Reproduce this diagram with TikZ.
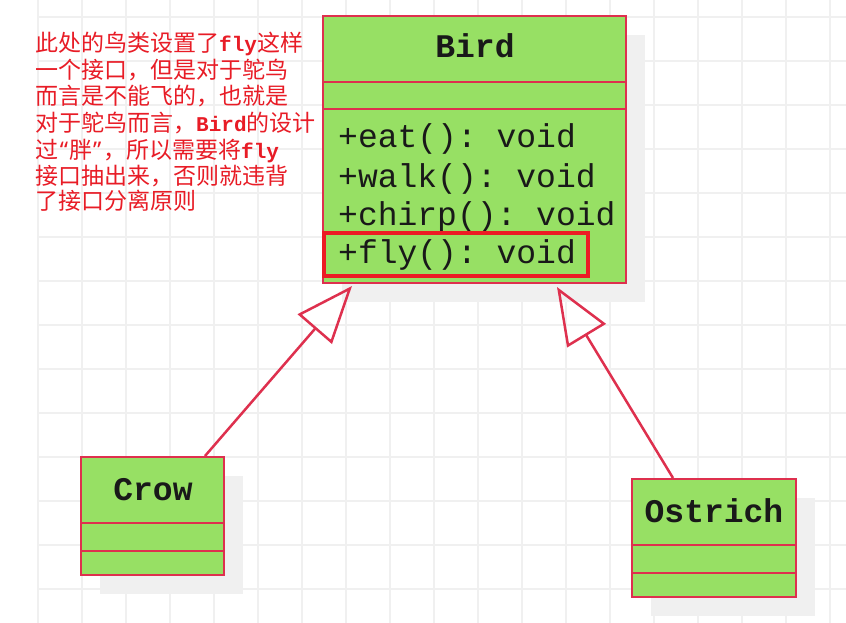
\documentclass[tikz,border=0pt]{standalone}
\usepackage{fontspec}
\setmonofont{Liberation Mono}
\newfontfamily\cjkfont{Noto Sans CJK SC}
\newfontfamily\quotefont{Noto Sans}
\usetikzlibrary{arrows.meta}
\definecolor{boxred}{RGB}{222,48,78}
\definecolor{hired}{RGB}{236,28,36}
\definecolor{notered}{RGB}{232,28,38}
\definecolor{boxgreen}{RGB}{151,224,100}
\definecolor{gridgray}{RGB}{240,240,240}
\definecolor{shadowgray}{RGB}{240,240,240}
\definecolor{txt}{RGB}{25,25,25}
\newcommand{\monobit}[1]{{\ttfamily\bfseries\fontsize{21}{26}\selectfont #1}}
\newcommand{\qtl}{\makebox[11pt][r]{\quotefont “\kern1pt}}
\newcommand{\qtr}{\makebox[11pt][l]{\quotefont \kern1pt”}}
\tikzset{
  gridline/.style={draw=gridgray, line width=1.5pt},
  shadowbox/.style={fill=shadowgray},
  classbox/.style={draw=boxred, fill=boxgreen, line width=2pt, inner sep=0pt, rectangle},
  sepline/.style={draw=boxred, line width=2pt},
  mono/.style={font=\ttfamily\fontsize{33}{38}\selectfont, text=txt, inner sep=0pt},
  monob/.style={font=\ttfamily\bfseries\fontsize{33}{38}\selectfont, text=txt, inner sep=0pt},
  note/.style={font=\cjkfont\fontsize{23}{26}\selectfont, text=notered, inner sep=0pt, anchor=base west},
  inh/.style={draw=boxred, line width=2.5pt, -{Triangle[open, length=57pt, width=45pt]}},
  hilite/.style={draw=hired, line width=3.5pt}
}
\begin{document}
\begin{tikzpicture}[x=1pt,y=-1pt]
\useasboundingbox (0,0) rectangle (846,623);
\fill[white] (0,0) rectangle (846,623);
% grid
\foreach \gx in {38,82,...,830} \draw[gridline] (\gx,0) -- (\gx,623);
\foreach \gy in {17,61,...,589} \draw[gridline] (38,\gy) -- (846,\gy);
% shadows
\fill[shadowbox] (342,35) rectangle (645,302);
\fill[shadowbox] (100,476) rectangle (243,594);
\fill[shadowbox] (651,498) rectangle (815,616);
% Bird
\node[classbox, minimum width=303pt, minimum height=267pt] (bird) at (474.5,149.5) {};
\draw[sepline] (323,82) -- (626,82);
\draw[sepline] (323,109) -- (626,109);
\node[monob, anchor=base] (birdname) at (475,58) {Bird};
\node[mono, anchor=base west] (m1) at (338,148) {+eat(): void};
\node[mono, anchor=base west] (m2) at (338,187) {+walk(): void};
\node[mono, anchor=base west] (m3) at (338,225) {+chirp(): void};
\node[mono, anchor=base west] (m4) at (338,263) {+fly(): void};
\draw[hilite] (324,233) rectangle (588,276);
% Crow
\node[classbox, minimum width=143pt, minimum height=118pt] (crow) at (152.5,516) {};
\draw[sepline] (81,523) -- (224,523);
\draw[sepline] (81,551) -- (224,551);
\node[monob, anchor=base] (crowname) at (153,500) {Crow};
% Ostrich
\node[classbox, minimum width=164pt, minimum height=118pt] (ostrich) at (714,538) {};
\draw[sepline] (632,545) -- (796,545);
\draw[sepline] (632,573) -- (796,573);
\node[monob, anchor=base] (ostrichname) at (714,522) {Ostrich};
% inheritance
\draw[inh] ([xshift=52.5pt]crow.north) -- ([xshift=-122.5pt,yshift=-2pt]bird.south);
\draw[inh] ([xshift=-41pt]ostrich.north) -- ([xshift=82.5pt,yshift=-3pt]bird.south);
% note
\node[note] (n1) at (35,52) {此处的鸟类设置了\monobit{fly}这样};
\node[note] (n2) at (35,78.5) {一个接口，但是对于鸵鸟};
\node[note] (n3) at (35,105) {而言是不能飞的，也就是};
\node[note] (n4) at (35,131.5) {对于鸵鸟而言，\monobit{Bird}的设计};
\node[note] (n5) at (35,158) {过\qtl 胖\qtr ，所以需要将\monobit{fly}};
\node[note] (n6) at (35,184) {接口抽出来，否则就违背};
\node[note] (n7) at (35,209) {了接口分离原则};
\end{tikzpicture}
\end{document}
